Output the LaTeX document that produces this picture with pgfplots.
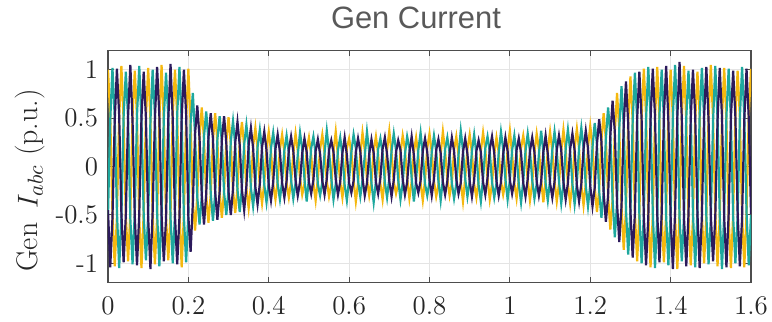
\documentclass[border=0pt]{standalone}
\usepackage{fontspec}
\usepackage{pgfplots}
\pgfplotsset{compat=1.18}
\usepackage{pgfplotstable}
\newfontfamily\titlefont{Liberation Sans}
\definecolor{cY}{HTML}{F5B80F}
\definecolor{cT}{HTML}{1EA89E}
\definecolor{cN}{HTML}{2C1A5C}
\definecolor{gridc}{HTML}{E4E4E4}
\definecolor{axc}{HTML}{4D4D4D}
\definecolor{titc}{HTML}{595959}
\pgfplotstableread{
t y c n
0.0000 1.00 -0.50 -0.45
0.0056 0.52 0.48 -1.04
0.0111 -0.49 1.02 -0.53
0.0167 -1.03 0.51 0.47
0.0222 -0.52 -0.46 1.01
0.0278 0.50 -1.05 0.53
0.0333 1.04 -0.53 -0.48
0.0389 0.47 0.52 -0.99
0.0444 -0.51 0.98 -0.50
0.0500 -0.98 0.49 0.52
0.0556 -0.48 -0.54 1.05
0.0611 0.53 -1.01 0.47
0.0667 0.99 -0.47 -0.52
0.0722 0.50 0.53 -1.02
0.0778 -0.54 1.04 -0.49
0.0833 -1.05 0.48 0.51
0.0889 -0.47 -0.51 0.98
0.0944 0.51 -0.97 0.50
0.1000 1.02 -0.50 -0.53
0.1056 0.48 0.47 -1.06
0.1111 -0.50 1.00 -0.47
0.1167 -1.01 0.53 0.49
0.1222 -0.53 -0.48 1.03
0.1278 0.49 -1.03 0.52
0.1333 1.05 -0.51 -0.50
0.1389 0.46 0.50 -0.98
0.1444 -0.52 0.97 -0.54
0.1500 -0.97 0.51 0.48
0.1556 -0.49 -0.53 1.06
0.1611 0.54 -1.00 0.49
0.1667 1.00 -0.48 -0.51
0.1722 0.51 0.54 -1.01
0.1778 -0.47 1.03 -0.52
0.1833 -1.04 0.47 0.50
0.1889 -0.50 -0.52 1.00
0.1944 0.48 -0.99 0.54
0.2000 1.01 -0.49 -0.52
0.2056 0.44 0.45 -0.88
0.2111 -0.37 0.76 -0.38
0.2167 -0.66 0.32 0.34
0.2222 -0.30 -0.32 0.63
0.2278 0.31 -0.60 0.29
0.2333 0.61 -0.31 -0.29
0.2389 0.28 0.31 -0.60
0.2444 -0.30 0.57 -0.28
0.2500 -0.58 0.27 0.30
0.2556 -0.29 -0.27 0.55
0.2611 0.27 -0.56 0.29
0.2667 0.55 -0.28 -0.26
0.2722 0.26 0.28 -0.55
0.2778 -0.27 0.52 -0.26
0.2833 -0.53 0.25 0.27
0.2889 -0.25 -0.27 0.52
0.2944 0.26 -0.50 0.24
0.3000 0.51 -0.24 -0.26
0.3056 0.23 0.26 -0.50
0.3111 -0.25 0.47 -0.23
0.3167 -0.48 0.22 0.25
0.3222 -0.22 -0.24 0.46
0.3278 0.24 -0.47 0.22
0.3333 0.46 -0.21 -0.24
0.3389 0.21 0.23 -0.45
0.3444 -0.23 0.43 -0.20
0.3500 -0.43 0.20 0.22
0.3556 -0.20 -0.22 0.40
0.3611 0.21 -0.41 0.19
0.3667 0.40 -0.18 -0.21
0.3722 0.18 0.20 -0.39
0.3778 -0.20 0.38 -0.18
0.3833 -0.38 0.17 0.20
0.3889 -0.17 -0.19 0.36
0.3944 0.19 -0.37 0.17
0.4000 0.36 -0.16 -0.19
0.4056 0.16 0.19 -0.35
0.4111 -0.18 0.35 -0.16
0.4167 -0.34 0.15 0.18
0.4222 -0.15 -0.18 0.33
0.4278 0.18 -0.34 0.15
0.4333 0.33 -0.15 -0.17
0.4389 0.15 0.17 -0.32
0.4444 -0.17 0.32 -0.15
0.4500 -0.32 0.14 0.17
0.4556 -0.16 -0.14 0.31
0.4611 0.13 -0.33 0.16
0.4667 0.34 -0.17 -0.14
0.4722 0.16 0.12 -0.30
0.4778 -0.12 0.35 -0.16
0.4833 -0.29 0.18 0.14
0.4889 -0.18 -0.13 0.29
0.4944 0.17 -0.36 0.15
0.5000 0.30 -0.12 -0.16
0.5056 0.12 0.19 -0.28
0.5111 -0.17 0.31 -0.14
0.5167 -0.35 0.13 0.16
0.5222 -0.13 -0.18 0.28
0.5278 0.18 -0.30 0.13
0.5333 0.33 -0.16 -0.15
0.5389 0.14 0.14 -0.29
0.5444 -0.15 0.37 -0.13
0.5500 -0.31 0.16 0.17
0.5556 -0.19 -0.12 0.27
0.5611 0.15 -0.34 0.15
0.5667 0.36 -0.18 -0.13
0.5722 0.11 0.17 -0.29
0.5778 -0.16 0.30 -0.16
0.5833 -0.32 0.12 0.14
0.5889 -0.12 -0.19 0.30
0.5944 0.19 -0.35 0.12
0.6000 0.29 -0.13 -0.17
0.6056 0.15 0.15 -0.27
0.6111 -0.14 0.33 -0.15
0.6167 -0.36 0.19 0.15
0.6222 -0.17 -0.15 0.29
0.6278 0.12 -0.31 0.16
0.6333 0.35 -0.14 -0.12
0.6389 0.17 0.11 -0.30
0.6444 -0.13 0.36 -0.17
0.6500 -0.30 0.15 0.13
0.6556 -0.15 -0.17 0.28
0.6611 0.16 -0.37 0.14
0.6667 0.31 -0.15 -0.16
0.6722 0.13 0.18 -0.28
0.6778 -0.18 0.29 -0.12
0.6833 -0.34 0.14 0.18
0.6889 -0.11 -0.16 0.30
0.6944 0.17 -0.32 0.13
0.7000 0.37 -0.12 -0.15
0.7056 0.14 0.16 -0.31
0.7111 -0.16 0.34 -0.14
0.7167 -0.28 0.17 0.15
0.7222 -0.18 -0.14 0.27
0.7278 0.14 -0.34 0.17
0.7333 0.32 -0.17 -0.13
0.7389 0.18 0.13 -0.29
0.7444 -0.12 0.31 -0.16
0.7500 -0.33 0.19 0.14
0.7556 -0.16 -0.12 0.31
0.7611 0.15 -0.36 0.12
0.7667 0.30 -0.14 -0.17
0.7722 0.12 0.17 -0.27
0.7778 -0.17 0.35 -0.15
0.7833 -0.35 0.12 0.16
0.7889 -0.14 -0.18 0.29
0.7944 0.19 -0.30 0.15
0.8000 0.34 -0.16 -0.14
0.8056 0.15 0.15 -0.30
0.8111 -0.15 0.32 -0.13
0.8167 -0.31 0.16 0.17
0.8222 -0.19 -0.15 0.28
0.8278 0.13 -0.35 0.14
0.8333 0.36 -0.13 -0.16
0.8389 0.16 0.18 -0.29
0.8444 -0.13 0.30 -0.15
0.8500 -0.30 0.14 0.13
0.8556 -0.17 -0.17 0.30
0.8611 0.17 -0.33 0.16
0.8667 0.31 -0.18 -0.13
0.8722 0.12 0.12 -0.28
0.8778 -0.16 0.37 -0.17
0.8833 -0.36 0.17 0.15
0.8889 -0.12 -0.13 0.29
0.8944 0.18 -0.31 0.13
0.9000 0.33 -0.15 -0.15
0.9056 0.14 0.16 -0.31
0.9111 -0.18 0.33 -0.14
0.9167 -0.32 0.13 0.16
0.9222 -0.14 -0.19 0.27
0.9278 0.16 -0.36 0.15
0.9333 0.35 -0.12 -0.16
0.9389 0.17 0.19 -0.29
0.9444 -0.12 0.31 -0.12
0.9500 -0.34 0.15 0.18
0.9556 -0.18 -0.16 0.31
0.9611 0.13 -0.32 0.14
0.9667 0.30 -0.17 -0.15
0.9722 0.15 0.14 -0.30
0.9778 -0.15 0.36 -0.16
0.9833 -0.29 0.18 0.13
0.9889 -0.16 -0.13 0.30
0.9944 0.18 -0.34 0.16
1.0000 0.37 -0.14 -0.14
1.0056 0.13 0.17 -0.28
1.0111 -0.17 0.32 -0.15
1.0167 -0.33 0.12 0.17
1.0222 -0.13 -0.18 0.29
1.0278 0.19 -0.37 0.14
1.0333 0.32 -0.15 -0.17
1.0389 0.16 0.16 -0.31
1.0444 -0.14 0.34 -0.13
1.0500 -0.35 0.16 0.16
1.0556 -0.17 -0.14 0.30
1.0611 0.14 -0.33 0.15
1.0667 0.34 -0.18 -0.15
1.0722 0.18 0.13 -0.30
1.0778 -0.13 0.37 -0.16
1.0833 -0.37 0.15 0.15
1.0889 -0.15 -0.17 0.32
1.0944 0.17 -0.35 0.13
1.1000 0.36 -0.14 -0.17
1.1056 0.16 0.17 -0.32
1.1111 -0.15 0.36 -0.16
1.1167 -0.36 0.16 0.17
1.1222 -0.18 -0.15 0.32
1.1278 0.16 -0.38 0.17
1.1333 0.38 -0.18 -0.16
1.1389 0.17 0.18 -0.34
1.1444 -0.18 0.38 -0.17
1.1500 -0.38 0.16 0.18
1.1556 -0.17 -0.18 0.34
1.1611 0.19 -0.39 0.17
1.1667 0.39 -0.17 -0.19
1.1722 0.18 0.19 -0.36
1.1778 -0.19 0.40 -0.18
1.1833 -0.40 0.19 0.18
1.1889 -0.18 -0.20 0.37
1.1944 0.20 -0.41 0.19
1.2000 0.42 -0.19 -0.20
1.2056 0.21 0.20 -0.41
1.2111 -0.21 0.45 -0.22
1.2167 -0.47 0.23 0.23
1.2222 -0.24 -0.25 0.49
1.2278 0.27 -0.53 0.26
1.2333 0.55 -0.27 -0.27
1.2389 0.28 0.29 -0.57
1.2444 -0.30 0.61 -0.30
1.2500 -0.65 0.32 0.32
1.2556 -0.34 -0.34 0.68
1.2611 0.36 -0.73 0.36
1.2667 0.76 -0.37 -0.38
1.2722 0.39 0.39 -0.78
1.2778 -0.41 0.83 -0.41
1.2833 -0.86 0.42 0.43
1.2889 -0.44 -0.44 0.88
1.2944 0.45 -0.91 0.45
1.3000 0.93 -0.46 -0.46
1.3056 0.47 0.47 -0.94
1.3111 -0.48 0.97 -0.48
1.3167 -0.98 0.48 0.49
1.3222 -0.49 -0.49 0.98
1.3278 0.50 -1.00 0.49
1.3333 1.01 -0.50 -0.51
1.3389 0.52 0.49 -1.02
1.3444 -0.48 1.03 -0.53
1.3500 -1.04 0.51 0.48
1.3556 -0.51 -0.47 1.01
1.3611 0.49 -1.05 0.52
1.3667 1.03 -0.52 -0.49
1.3722 0.47 0.53 -0.99
1.3778 -0.53 1.00 -0.48
1.3833 -0.99 0.48 0.53
1.3889 -0.48 -0.52 1.04
1.3944 0.53 -1.02 0.47
1.4000 1.00 -0.49 -0.52
1.4056 0.50 0.51 -1.06
1.4111 -0.52 1.05 -0.47
1.4167 -1.06 0.47 0.51
1.4222 -0.47 -0.53 1.08
1.4278 0.51 -0.98 0.50
1.4333 1.04 -0.51 -0.53
1.4389 0.48 0.50 -1.03
1.4444 -0.50 0.99 -0.50
1.4500 -1.02 0.52 0.49
1.4556 -0.53 -0.48 1.00
1.4611 0.47 -1.04 0.53
1.4667 0.98 -0.47 -0.48
1.4722 0.53 0.52 -1.05
1.4778 -0.49 1.02 -0.51
1.4833 -1.00 0.49 0.52
1.4889 -0.50 -0.51 1.03
1.4944 0.52 -1.01 0.48
1.5000 1.05 -0.53 -0.50
1.5056 0.49 0.47 -0.98
1.5111 -0.47 1.04 -0.52
1.5167 -1.03 0.50 0.47
1.5222 -0.52 -0.50 1.02
1.5278 0.50 -1.06 0.51
1.5333 1.02 -0.48 -0.53
1.5389 0.46 0.53 -1.04
1.5444 -0.53 1.01 -0.49
1.5500 -1.05 0.48 0.50
1.5556 -0.49 -0.52 0.99
1.5611 0.51 -1.00 0.52
1.5667 0.99 -0.51 -0.47
1.5722 0.52 0.49 -1.03
1.5778 -0.50 1.03 -0.53
1.5833 -1.04 0.51 0.48
1.5889 -0.48 -0.47 1.01
1.5944 0.53 -1.02 0.50
1.6000 1.01 -0.50 -0.49
}\gendata
\begin{document}
\begin{tikzpicture}
\path[use as bounding box] (-54bp,-19.5bp) rectangle (332bp,141.35bp);
\begin{axis}[
  at={(0,0)}, anchor=south west,
  scale only axis, width=321.5bp, height=116.15bp,
  xmin=0, xmax=1.6, ymin=-1.2, ymax=1.2,
  xtick={0,0.2,0.4,0.6,0.8,1,1.2,1.4,1.6},
  xticklabels={0,0.2,0.4,0.6,0.8,1,1.2,1.4,1.6},
  ytick={-1,-0.5,0,0.5,1},
  yticklabels={-1,-0.5,0,0.5,1},
  grid=major,
  grid style={gridc, line width=0.5bp},
  tick align=inside,
  major tick length=3bp,
  axis line style={axc, line width=0.6bp},
  tick style={axc, line width=0.5bp},
  ticklabel style={font=\fontsize{13.5}{15}\selectfont, text=black!85},
  xticklabel style={yshift=-3.5bp},
  yticklabel style={xshift=-1.5bp},
  ylabel={Gen\, $I_{abc}$ (p.u.)},
  ylabel style={font=\fontsize{15}{17}\selectfont, text=black!85, at={(axis description cs:-0.121,0.44)}, anchor=center},
  clip=true,
]
\addplot[cY, line width=1.1bp] table[x=t, y=y] {\gendata};
\addplot[cT, line width=1.1bp] table[x=t, y=c] {\gendata};
\addplot[cN, line width=1.1bp] table[x=t, y=n] {\gendata};
\end{axis}
\node[anchor=base, text=titc, font=\titlefont\fontsize{15.5}{17}\selectfont, inner sep=0pt] at (154bp,126.85bp) {Gen Current};
\end{tikzpicture}
\end{document}
